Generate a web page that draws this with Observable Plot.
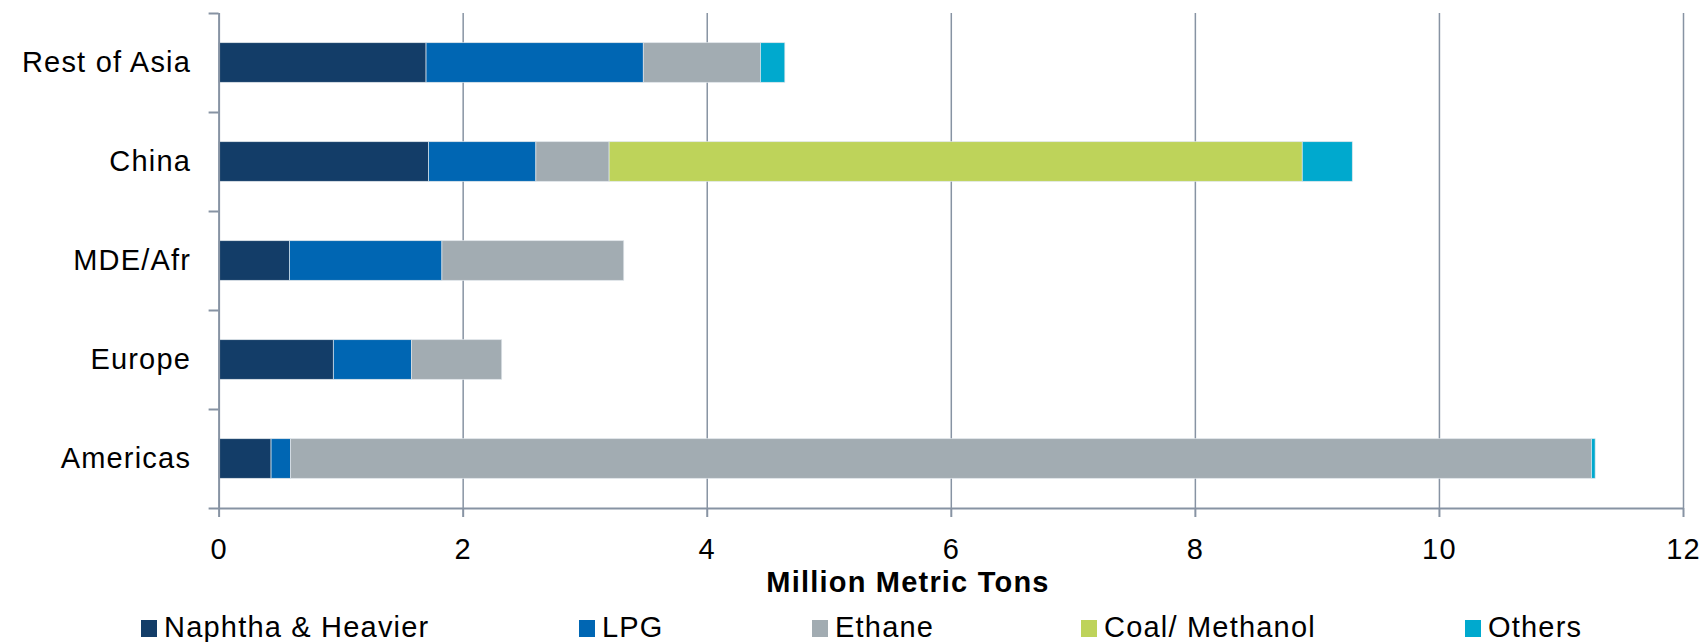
<!DOCTYPE html>
<html>
<head>
<meta charset="utf-8">
<script src="https://cdn.jsdelivr.net/npm/d3@7"></script>
<script src="https://cdn.jsdelivr.net/npm/@observablehq/plot@0.6"></script>
<style>
  html, body { margin: 0; padding: 0; background: #fff; overflow: hidden; }
  #wrap { position: relative; width: 1705px; height: 642px; font-family: "Liberation Sans", Arial, sans-serif; }
  #wrap svg { display: block; }
  .title { position: absolute; top: 568px; transform: translateX(-50%); font-weight: bold; font-size: 29px; line-height: 29px; letter-spacing: 1.2px; white-space: nowrap; color: #000; }
  .item { position: absolute; top: 613px; font-size: 29px; line-height: 29px; letter-spacing: 1.2px; white-space: nowrap; color: #000; }
  .swatch { display: inline-block; width: 16px; height: 17px; margin-right: 7px; vertical-align: baseline; }
</style>
</head>
<body>
<div id="wrap"></div>
<script>
// Regions, listed top to bottom
const regions = ["Rest of Asia", "China", "MDE/Afr", "Europe", "Americas"];

// Feedstock series, stacked left to right
const sources = ["Naphtha & Heavier", "LPG", "Ethane", "Coal/ Methanol", "Others"];
const colors = ["#133D68", "#0066B3", "#A2ACB2", "#BED35A", "#00A9CE"];

// Million metric tons per region (same order as regions)
const naphtha = [1.70, 1.72, 0.58, 0.94, 0.43];
const lpg     = [1.78, 0.88, 1.25, 0.64, 0.16];
const ethane  = [0.96, 0.60, 1.49, 0.74, 10.66];
const coal    = [0.00, 5.68, 0.00, 0.00, 0.00];
const others  = [0.20, 0.41, 0.00, 0.00, 0.03];

const xTicks = [0, 2, 4, 6, 8, 10, 12];
const axisTitle = "Million Metric Tons";

// Stack each region's segments left to right
const series = [naphtha, lpg, ethane, coal, others];
const rows = [];
regions.forEach((region, i) => {
  let start = 0;
  series.forEach((values, s) => {
    const v = values[i];
    if (v > 0) rows.push({region, i, source: sources[s], start, end: start + v});
    start += v;
  });
});

const half = 0.2;               // half bar thickness, in band units
const lineColor = "#8793A3";
const indices = regions.map((_, i) => i);
const boundaries = [-0.5, ...indices.map(i => i + 0.5)];

const chart = Plot.plot({
  width: 1705,
  height: 568,
  marginLeft: 218.6,
  marginRight: 22,
  marginTop: 13,
  marginBottom: 60,
  x: {domain: [0, 12]},
  y: {domain: [-0.5, regions.length - 0.5], reverse: true},
  color: {domain: sources, range: colors},
  style: {
    fontFamily: "'Liberation Sans', Arial, sans-serif",
    fontSize: "29px",
    color: "#000",
    background: "#fff",
    letterSpacing: "1.2px"
  },
  marks: [
    Plot.ruleX(xTicks.slice(1), {stroke: lineColor, strokeWidth: 1.5}),
    Plot.rectX(rows, {
      x1: "start", x2: "end",
      y1: d => d.i - half, y2: d => d.i + half,
      fill: "source",
      stroke: "#dfe5ea", strokeWidth: 0.7
    }),
    Plot.ruleX([0], {stroke: lineColor, strokeWidth: 2}),
    Plot.ruleY([regions.length - 0.5], {stroke: lineColor, strokeWidth: 2}),
    Plot.axisX({ticks: xTicks, tickSize: 9, tickPadding: 21, stroke: lineColor, strokeWidth: 2, fill: "#000", label: null}),
    Plot.axisY({ticks: indices, tickFormat: i => regions[i], tickSize: 0, tickPadding: 28, fill: "#000", label: null}),
    Plot.axisY({ticks: boundaries, tickFormat: () => "", tickSize: 10, stroke: lineColor, strokeWidth: 2, label: null})
  ]
});

const wrap = document.getElementById("wrap");
wrap.appendChild(chart);

// Axis title below the chart
const title = document.createElement("div");
title.className = "title";
title.style.left = "908px";
title.textContent = axisTitle;
wrap.appendChild(title);

// Legend row below the axis title
const legendLeft = [141, 579, 812, 1081, 1465];
sources.forEach((name, k) => {
  const item = document.createElement("div");
  item.className = "item";
  item.style.left = legendLeft[k] + "px";
  const sw = document.createElement("span");
  sw.className = "swatch";
  sw.style.background = colors[k];
  item.appendChild(sw);
  item.appendChild(document.createTextNode(name));
  wrap.appendChild(item);
});
</script>
</body>
</html>
